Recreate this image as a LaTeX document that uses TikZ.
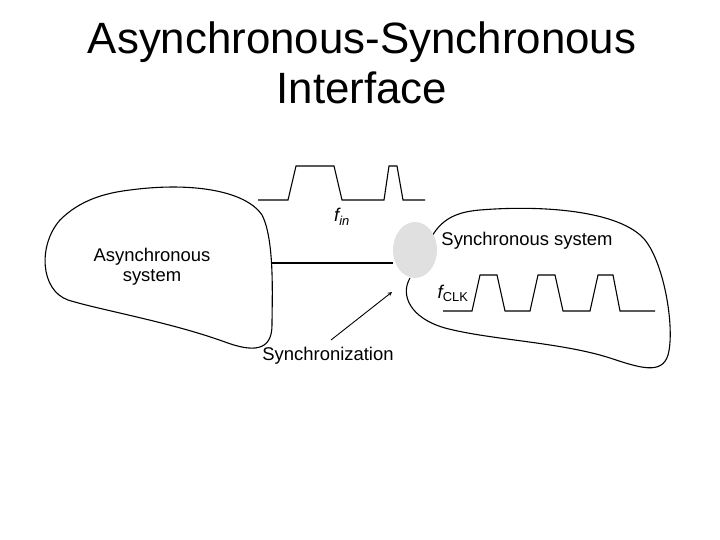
\documentclass[tikz,border=0pt]{standalone}
\usepackage{fontspec}
\setmainfont{Liberation Sans}
\usetikzlibrary{shapes.geometric}
\begin{document}
\begin{tikzpicture}[x=1bp,y=-1bp,
  line/.style={black,line width=1.1pt},
  lbl/.style={font=\fontsize{18.5}{20}\selectfont,align=center,inner sep=0pt}]
\useasboundingbox (0,0) rectangle (720,540);
\node[font=\fontsize{44}{50}\selectfont,align=center,inner sep=0pt] (title) at (362,63) {Asynchronous-Synchronous\\Interface};
% left blob
\draw[line] (130,190) .. controls (190,182) and (245,190) .. (262,215)
  .. controls (275,240) and (272,300) .. (272,325)
  .. controls (272,352) and (252,352) .. (225,342)
  .. controls (170,322) and (100,310) .. (68,300)
  .. controls (40,290) and (38,245) .. (60,220)
  .. controls (80,200) and (105,193) .. (130,190) -- cycle;
% right blob
\draw[line] (430,240) .. controls (440,220) and (455,212) .. (480,210)
  .. controls (540,205) and (620,210) .. (645,240)
  .. controls (665,265) and (675,330) .. (668,355)
  .. controls (662,375) and (640,368) .. (610,358)
  .. controls (560,342) and (490,340) .. (445,328)
  .. controls (410,318) and (400,295) .. (410,278);
\node[draw=none,fill=black!12,ellipse,minimum width=44bp,minimum height=56bp,inner sep=0pt] (sync) at (415,250) {};
\coordinate (aright) at (272,263);
\draw[line] (aright) -- (sync.west |- aright);
% fin waveform
\draw[line] (258,200) -- (288,200) -- (296,166) -- (334,166) -- (342,200) -- (384,200) -- (389,166) -- (397,166) -- (403,200) -- (425,200);
\node[lbl] (fin) at (342,217) {\itshape f\textsubscript{in}};
% fclk waveform
\draw[line] (443,311) -- (472,311) -- (480,275) -- (497,275) -- (505,311) -- (530,311) -- (538,275) -- (555,275) -- (563,311) -- (590,311) -- (598,275) -- (613,275) -- (620,311) -- (655,311);
\node[lbl] (fclk) at (453,293) {\itshape f\textsubscript{\upshape CLK}};
\node[lbl] (ss) at (527,241) {Synchronous system};
\node[lbl] (as) at (152,267) {Asynchronous\\system};
\node[lbl] (sn) at (328,356) {Synchronization};
\coordinate (tip) at (392,292);
\draw[line,line width=0.9pt,-stealth] (331,340) -- (tip);
\end{tikzpicture}
\end{document}
